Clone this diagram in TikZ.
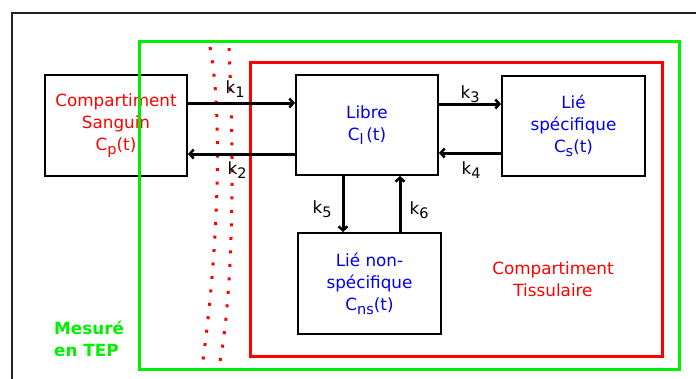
\documentclass[tikz,border=0pt]{standalone}
\usepackage{fontspec}
\setmainfont{DejaVu Sans}
\usetikzlibrary{arrows.meta}
\definecolor{lime}{RGB}{0,240,0}
\definecolor{pred}{RGB}{255,0,0}
\definecolor{pblue}{RGB}{0,0,235}
\definecolor{frame}{RGB}{34,34,34}
\newcommand{\sbs}[1]{\raisebox{-0.45ex}{\fontsize{14.5}{14.5}\selectfont #1}}
\begin{document}
\begin{tikzpicture}[x=1pt,y=-1pt,font=\fontsize{16.8}{22}\selectfont,
  box/.style={draw=black,line width=2pt,inner sep=0pt,align=center},
  flow/.style={line width=3pt,-{Straight Barb[length=4pt,width=9pt,line width=2.5pt]}},
  klab/.style={inner sep=0pt},
  dots/.style={pred,line width=3pt,dash pattern=on 3pt off 10.5pt}]
\useasboundingbox (0,0) rectangle (696,378);
% outer frame
\draw[frame,line width=2pt] (11.5,380) -- (11.5,13) -- (698,13);
% boxes
\node[box,minimum width=142pt,minimum height=101pt,text=pred] (sang) at (116,125.5)
  {Compartiment\\Sanguin\\C\sbs{p}(t)};
\node[box,minimum width=142pt,minimum height=100pt,text=pblue] (lib) at (367,125)
  {Libre\\C\sbs{l}\,(t)};
\node[box,minimum width=143pt,minimum height=100pt,text=pblue] (spec) at (573.5,126)
  {Lié\\spécifique\\C\sbs{s}(t)};
\node[box,minimum width=143pt,minimum height=101pt,text=pblue] (ns) at (369.5,283.5)
  {Lié non-\\spécifique\\C\sbs{ns}(t)};
% compartments
\draw[lime,line width=3pt] (139,41) rectangle (679,369);
\draw[pred,line width=3pt] (250,62) rectangle (662,356);
% dotted boundary
\draw[dots] (210,47) .. controls (223,115) and (218,250) .. (203,360);
\draw[dots] (229,48) .. controls (234,150) and (234,285) .. (220,362);
% helper coordinates
\coordinate (y103) at (0,103);
\coordinate (y154) at (0,154);
\coordinate (y104) at (0,104);
\coordinate (y153) at (0,153);
\coordinate (x343) at (343,0);
\coordinate (x400) at (400,0);
% flows
\draw[flow] (sang.east |- y103) -- (lib.west |- y103);
\draw[flow] (lib.west |- y154) -- (sang.east |- y154);
\draw[flow] (lib.east |- y104) -- (spec.west |- y104);
\draw[flow] (spec.west |- y153) -- (lib.east |- y153);
\draw[flow] (lib.south -| x343) -- (ns.north -| x343);
\draw[flow] (ns.north -| x400) -- (lib.south -| x400);
% rate labels
\node[klab] (k1) at (235,89) {k\sbs{1}};
\node[klab] (k2) at (237,170) {k\sbs{2}};
\node[klab] (k3) at (470,94) {k\sbs{3}};
\node[klab] (k4) at (471,170) {k\sbs{4}};
\node[klab] (k5) at (322,209) {k\sbs{5}};
\node[klab] (k6) at (419,210) {k\sbs{6}};
% texts
\node[text=lime,font=\fontsize{16.8}{22}\selectfont\bfseries,align=left,anchor=west,inner sep=0pt] (tep) at (54,339) {Mesuré\\en TEP};
\node[text=pred,align=center,inner sep=0pt] (tis) at (553,279) {Compartiment\\Tissulaire};
\end{tikzpicture}
\end{document}
